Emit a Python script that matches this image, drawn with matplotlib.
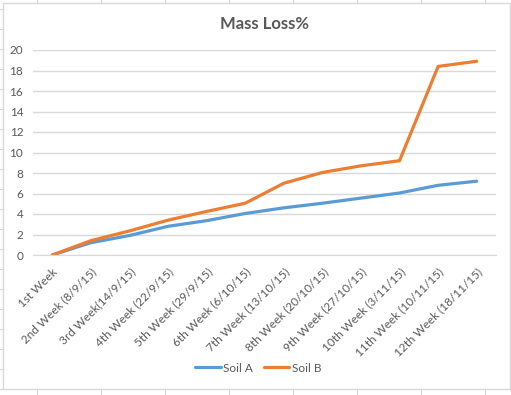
import matplotlib.pyplot as plt
from matplotlib.lines import Line2D
from matplotlib.patches import Rectangle

weeks = ['1st Week', '2nd Week (8/9/15)', '3rd Week(14/9/15)', '4th Week (22/9/15)',
         '5th Week (29/9/15)', '6th Week (6/10/15)', '7th Week (13/10/15)',
         '8th Week (20/10/15)', '9th Week (27/10/15)', '10th Week (3/11/15)',
         '11th Week (10/11/15)', '12th Week (18/11/15)']
soil_a = [0, 1.2, 1.9, 2.8, 3.35, 4.05, 4.6, 5.05, 5.55, 6.05, 6.8, 7.2]
soil_b = [0, 1.4, 2.35, 3.4, 4.25, 5.05, 7.0, 8.05, 8.7, 9.2, 18.4, 18.9]
yticks = list(range(0, 21, 2))

plt.rcParams['font.family'] = ['Lato', 'DejaVu Sans']
txt = '#595959'
W, H = 511, 395

fig = plt.figure(figsize=(W / 100, H / 100), dpi=100)

# spreadsheet cells around the chart
cell = '#d4d4d4'
for x in range(37, W, 64):
    fig.add_artist(Line2D([x / W, x / W], [1 - 3 / H, 1], color=cell, lw=0.8))
    fig.add_artist(Line2D([x / W, x / W], [0, 1 - 389 / H], color=cell, lw=0.8))
for y in range(9, H, 20):
    fig.add_artist(Line2D([0, 3 / W], [1 - y / H, 1 - y / H], color=cell, lw=0.8))
fig.add_artist(Rectangle((3 / W, 1 - 389 / H), 507 / W, 386 / H, fill=False,
                         edgecolor='#d9d9d9', lw=1))

ax = fig.add_axes([33 / W, 1 - 255 / H, 463 / W, 205 / H])
x = range(len(weeks))
ax.plot(x, soil_a, color='#5b9bd5', lw=2.3, label='Soil A', solid_capstyle='round')
ax.plot(x, soil_b, color='#ed7d31', lw=2.3, label='Soil B', solid_capstyle='round')

ax.set_xlim(-0.5, len(weeks) - 0.5)
ax.set_ylim(0, 20)
ax.set_yticks(yticks)
ax.yaxis.grid(True, color='#d9d9d9', lw=1)
ax.set_axisbelow(True)
for s in ['left', 'right', 'top']:
    ax.spines[s].set_visible(False)
ax.spines['bottom'].set_color('#d9d9d9')
ax.tick_params(axis='y', length=0, pad=7, labelsize=8.5, labelcolor=txt)
ax.tick_params(axis='x', length=0, pad=8, labelsize=8.5, labelcolor=txt)
ax.set_xticks(list(x))
ax.set_xticklabels(weeks, rotation=45, ha='right', va='top', rotation_mode='anchor')

ax.set_title('Mass Loss%', fontsize=12, fontweight='bold', color=txt, pad=15)

fig.legend(loc='center', bbox_to_anchor=(258 / W, 1 - 368 / H), ncol=2, frameon=False,
           fontsize=8.5, labelcolor=txt, handlelength=2.2, columnspacing=0.9,
           handletextpad=0.2)

fig.savefig('out.png', dpi=100)
